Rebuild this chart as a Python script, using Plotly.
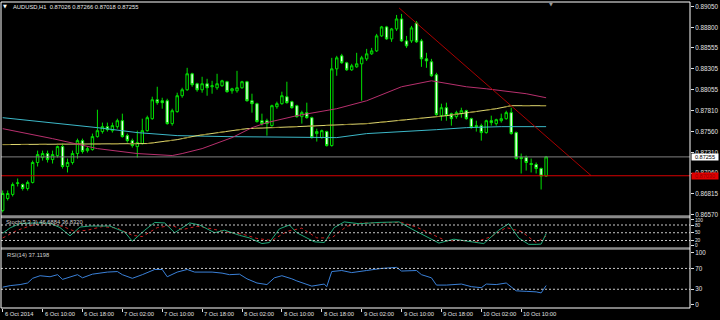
import plotly.graph_objects as go

# ---------------- data ----------------
opens = [0.86616,0.86759,0.86807,0.86938,0.86926,0.86878,0.86950,0.87188,0.87247,0.87295,
         0.87223,0.87271,0.87378,0.87140,0.87188,0.87295,0.87449,0.87330,0.87342,0.87497,
         0.87557,0.87616,0.87568,0.87616,0.87687,0.87509,0.87449,0.87378,0.87414,0.87568,
         0.87711,0.87937,0.87925,0.87925,0.87652,0.87795,0.87985,0.88056,0.88247,0.88128,
         0.88056,0.88128,0.88092,0.88080,0.88104,0.88152,0.88044,0.88044,0.88080,0.88152,
         0.87925,0.87890,0.87687,0.87687,0.87628,0.87854,0.87890,0.87973,0.87914,0.87866,
         0.87735,0.87783,0.87723,0.87533,0.87485,0.87557,0.87390,0.88306,0.88461,0.88378,
         0.88294,0.88330,0.88366,0.88425,0.88485,0.88520,0.88699,0.88806,0.88663,0.88782,
         0.88901,0.88639,0.88639,0.88854,0.88639,0.88425,0.88390,0.88235,0.87747,0.87842,
         0.87771,0.87735,0.87771,0.87806,0.87711,0.87628,0.87628,0.87545,0.87687,0.87652,
         0.87687,0.87711,0.87783,0.87545,0.87247,0.87247,0.87176,0.87164,0.87116,0.87026]
highs = [0.86854,0.86854,0.86950,0.86997,0.86938,0.86973,0.87211,0.87330,0.87330,0.87330,
         0.87330,0.87390,0.87414,0.87235,0.87330,0.87473,0.87473,0.87378,0.87533,0.87818,
         0.87664,0.87664,0.87664,0.87711,0.87771,0.87533,0.87473,0.87568,0.87711,0.87747,
         0.87973,0.88092,0.87961,0.87949,0.87830,0.88021,0.88080,0.88318,0.88259,0.88140,
         0.88211,0.88187,0.88163,0.88247,0.88175,0.88163,0.88080,0.88282,0.88163,0.88163,
         0.88009,0.87902,0.87771,0.87711,0.87878,0.87914,0.88033,0.88152,0.87925,0.87878,
         0.87806,0.87902,0.87735,0.87592,0.87580,0.87568,0.88437,0.88461,0.88485,0.88390,
         0.88366,0.88497,0.88461,0.88544,0.88556,0.88723,0.88818,0.88818,0.88794,0.88949,
         0.88961,0.88699,0.88818,0.88877,0.88663,0.88497,0.88425,0.88259,0.87890,0.87902,
         0.87783,0.87806,0.87842,0.87818,0.87723,0.87687,0.87652,0.87699,0.87747,0.87711,
         0.87771,0.87806,0.87842,0.87557,0.87295,0.87271,0.87235,0.87188,0.87128,0.87266]
lows = [0.86593,0.86735,0.86783,0.86902,0.86854,0.86854,0.86938,0.87140,0.87211,0.87188,
        0.87176,0.87247,0.87116,0.87069,0.87164,0.87235,0.87295,0.87307,0.87330,0.87485,
        0.87533,0.87557,0.87545,0.87592,0.87485,0.87426,0.87366,0.87247,0.87402,0.87557,
        0.87699,0.87878,0.87830,0.87640,0.87628,0.87783,0.87961,0.88044,0.88092,0.88033,
        0.88021,0.87985,0.88009,0.88056,0.88092,0.88021,0.88009,0.88021,0.88068,0.87914,
        0.87783,0.87664,0.87628,0.87509,0.87616,0.87830,0.87878,0.87890,0.87830,0.87723,
        0.87652,0.87711,0.87473,0.87438,0.87473,0.87378,0.87378,0.88223,0.88366,0.88282,
        0.88282,0.88318,0.87925,0.88401,0.88473,0.88508,0.88687,0.88651,0.88628,0.88758,
        0.88628,0.88556,0.88616,0.88616,0.88330,0.88318,0.88211,0.87747,0.87687,0.87687,
        0.87628,0.87711,0.87723,0.87699,0.87592,0.87557,0.87449,0.87533,0.87628,0.87628,
        0.87664,0.87699,0.87521,0.87223,0.87057,0.87092,0.87069,0.87057,0.86866,0.87018]
closes = [0.86818,0.86818,0.86926,0.86945,0.86878,0.86950,0.87188,0.87283,0.87295,0.87223,
          0.87283,0.87378,0.87140,0.87188,0.87295,0.87449,0.87319,0.87354,0.87497,0.87568,
          0.87616,0.87580,0.87628,0.87687,0.87497,0.87449,0.87390,0.87426,0.87568,0.87723,
          0.87937,0.87902,0.87902,0.87652,0.87806,0.87985,0.88056,0.88247,0.88116,0.88056,
          0.88128,0.88080,0.88104,0.88128,0.88163,0.88033,0.88068,0.88080,0.88152,0.87925,
          0.87890,0.87676,0.87652,0.87652,0.87866,0.87890,0.87985,0.87902,0.87842,0.87735,
          0.87783,0.87723,0.87485,0.87557,0.87568,0.87390,0.88306,0.88437,0.88378,0.88294,
          0.88342,0.88366,0.88437,0.88485,0.88520,0.88699,0.88806,0.88663,0.88782,0.88901,
          0.88639,0.88580,0.88794,0.88628,0.88425,0.88401,0.88223,0.87759,0.87842,0.87747,
          0.87711,0.87783,0.87806,0.87711,0.87604,0.87616,0.87545,0.87687,0.87664,0.87699,
          0.87711,0.87783,0.87533,0.87235,0.87235,0.87188,0.87164,0.87116,0.87026,0.87255]
bar_index = list(range(len(closes)))

ma_cyan_idx = [0, 10, 19, 27, 35, 45, 59, 67, 73, 81, 87, 93, 100, 109]
ma_cyan = [0.87723, 0.87664, 0.87604, 0.87545, 0.87509, 0.87497, 0.87491, 0.87485,
           0.87533, 0.87557, 0.87580, 0.87604, 0.87616, 0.87616]
ma_yellow_idx = [0, 29, 35, 39, 46, 49, 59, 65, 73, 81, 89, 99, 102, 109]
ma_yellow = [0.87402, 0.87414, 0.87461, 0.87509, 0.87568, 0.87592, 0.87616, 0.87628,
             0.87652, 0.87699, 0.87747, 0.87830, 0.87866, 0.87866]
ma_magenta_idx = [0, 10, 19, 27, 34, 36, 40, 46, 50, 53, 59, 67, 73, 80, 86, 93, 97, 100, 105, 109]
ma_magenta = [0.87592, 0.87473, 0.87354, 0.87295, 0.87271, 0.87295, 0.87354, 0.87485,
              0.87604, 0.87664, 0.87747, 0.87830, 0.87925, 0.88092, 0.88163, 0.88092,
              0.88068, 0.88044, 0.88009, 0.87961]

bid_price = 0.87255
level_price = 0.87030
trend_idx = [79.5, 118]
trend_price = [0.89033, 0.87033]

price_ticks = [0.89050, 0.88800, 0.88555, 0.88305, 0.88055, 0.87810, 0.87560,
               0.87310, 0.87060, 0.86815, 0.86570]

stoch_idx = [0,1.5,3.5,6,9.5,11.5,13.5,15.5,17.5,21.5,24.5,26,28.5,30.5,32.5,34.5,37.5,39.5,
             42.5,44.5,47.5,49.5,52,53.5,55.5,57.5,59,62.5,64.5,66.5,68.5,71.5,75.5,79.5,
             82.5,84.5,87.5,90.5,93,96.5,99.5,101.5,103.5,105.5,107,108,109]
stoch_main = [48,69,86,88,87,70,38,72,76,76,52,17,60,90,88,50,88,80,50,60,40,30,8,12,65,80,
              50,15,12,70,92,85,90,92,60,40,10,25,18,8,60,85,30,5,5,6,46.69]
signal_idx = [0,3,6,9,12,14.5,17,20,23,26,28,31,34,36,39,42,45,48,51,54,57,60,63,66,69,72,
              76,80,83,86,89,92,95,98,101,104,107,109]
stoch_signal = [30,60,80,86,75,55,60,74,68,40,35,70,78,62,75,65,52,45,28,20,55,68,30,30,75,
                88,88,90,72,45,18,20,15,35,70,55,12,36.83]
stoch_levels = [80, 50, 20]
stoch_ticks = [100, 80, 50, 20, 0]

rsi_idx = [0,1.5,3.5,5,6,7.5,9.5,11,12,13.5,15,16,18,21,23,24,26,28,30.5,32,33,35,37,38.5,
           42,44,45.5,47.5,49,51,53,54.5,56,58,59,62,64.5,65,66,68,70,73,76,79,80,83,84,86,
           87,89,92,94,96,97,99,101,102,103,105,107,108,109]
rsi_vals = [34,37,39,42,51,56,54,58,49,53,58,52,59,63,64,58,51,58,68,68,54,63,68,63,63,61,58,
            59,50,42,39,52,56,50,46,36,40,35,64,66,62,66,70,72,65,66,58,52,38,38,40,35,33,40,
            39,42,34,27,26,25,23,37.12]
rsi_levels = [70, 30]
rsi_ticks = [100, 70, 30, 0]

time_tick_idx = [0, 8, 16, 24, 32, 40, 48, 56, 64, 72, 80, 88, 96, 104]
time_tick_text = ["6 Oct 2014", "6 Oct 10:00", "6 Oct 18:00", "7 Oct 02:00", "7 Oct 10:00",
                  "7 Oct 18:00", "8 Oct 02:00", "8 Oct 10:00", "8 Oct 18:00", "9 Oct 02:00",
                  "9 Oct 10:00", "9 Oct 18:00", "10 Oct 02:00", "10 Oct 10:00"]

title_text = "AUDUSD,H1&nbsp;&nbsp;0.87026 0.87266 0.87018 0.87255"
stoch_text = "Stoch(5,3,3) 46.6884 36.8320"
rsi_text = "RSI(14) 37.1198"

# ---------------- layout geometry ----------------
W, H = 720, 320
ML, MR, MT, MB = 1, 28, 1, 12
PH = H - MT - MB  # 307
PW = W - ML - MR


def py(px):
    """pixel row -> paper y"""
    return (H - MB - px) / PH


def pxx(px):
    """pixel column -> paper x"""
    return (px - ML) / PW


FONT = "Liberation Sans"
FS = 5.8      # small texts
FS_P = 6.3    # price labels
FS_BOX = 5.6  # price boxes

fig = go.Figure()

fig.add_trace(go.Candlestick(
    x=bar_index, open=opens, high=highs, low=lows, close=closes,
    increasing=dict(line=dict(color="#00e000", width=1), fillcolor="#000000"),
    decreasing=dict(line=dict(color="#00e000", width=1), fillcolor="#e8ffe8"),
    whiskerwidth=0, xaxis="x", yaxis="y", showlegend=False, hoverinfo="skip"))

fig.add_trace(go.Scatter(x=ma_cyan_idx, y=ma_cyan, mode="lines",
                         line=dict(color="#3cb8c8", width=1), xaxis="x", yaxis="y",
                         showlegend=False, hoverinfo="skip"))
fig.add_trace(go.Scatter(x=ma_yellow_idx, y=ma_yellow, mode="lines",
                         line=dict(color="#e0d870", width=1), xaxis="x", yaxis="y",
                         showlegend=False, hoverinfo="skip"))
fig.add_trace(go.Scatter(x=ma_yellow_idx, y=ma_yellow, mode="lines",
                         line=dict(color="#8c8030", width=1, dash="8px,10px"), xaxis="x", yaxis="y",
                         showlegend=False, hoverinfo="skip"))
fig.add_trace(go.Scatter(x=ma_magenta_idx, y=ma_magenta, mode="lines",
                         line=dict(color="#b8306e", width=1), xaxis="x", yaxis="y",
                         showlegend=False, hoverinfo="skip"))
fig.add_trace(go.Scatter(x=trend_idx, y=trend_price, mode="lines",
                         line=dict(color="#a80000", width=1), xaxis="x", yaxis="y",
                         showlegend=False, hoverinfo="skip"))

# stochastic
fig.add_trace(go.Scatter(x=signal_idx, y=stoch_signal, mode="lines",
                         line=dict(color="#c82020", width=1, dash="dot"), xaxis="x", yaxis="y2",
                         showlegend=False, hoverinfo="skip"))
fig.add_trace(go.Scatter(x=stoch_idx, y=stoch_main, mode="lines",
                         line=dict(color="#20a878", width=1), xaxis="x", yaxis="y2",
                         showlegend=False, hoverinfo="skip"))
# rsi
fig.add_trace(go.Scatter(x=rsi_idx, y=rsi_vals, mode="lines",
                         line=dict(color="#3a80d8", width=1), xaxis="x", yaxis="y3",
                         showlegend=False, hoverinfo="skip"))

shapes = []
shapes.append(dict(type="line", xref="paper", x0=0, x1=1, yref="y", y0=bid_price, y1=bid_price,
                   line=dict(color="#808080", width=1)))
shapes.append(dict(type="line", xref="paper", x0=0, x1=1, yref="y", y0=level_price, y1=level_price,
                   line=dict(color="#d80000", width=1)))
for lv in stoch_levels:
    shapes.append(dict(type="line", xref="paper", x0=0, x1=1, yref="y2", y0=lv, y1=lv,
                       line=dict(color="#c8c8c8", width=1, dash="2px,2px")))
for lv in rsi_levels:
    shapes.append(dict(type="line", xref="paper", x0=0, x1=1, yref="y3", y0=lv, y1=lv,
                       line=dict(color="#c8c8c8", width=1, dash="2px,2px")))
shapes.append(dict(type="rect", xref="paper", x0=0, x1=1, yref="paper", y0=py(218), y1=py(215),
                   line=dict(width=0), fillcolor="#8a8a8a", layer="above"))
shapes.append(dict(type="rect", xref="paper", x0=0, x1=1, yref="paper", y0=py(249.5), y1=py(247),
                   line=dict(width=0), fillcolor="#8a8a8a", layer="above"))
shapes.append(dict(type="rect", xref="paper", x0=0, x1=1, yref="paper", y0=0, y1=1,
                   line=dict(color="#ffffff", width=1), fillcolor="rgba(0,0,0,0)", layer="above"))

annotations = []
for ti, tt in zip(time_tick_idx, time_tick_text):
    annotations.append(dict(x=ti, xref="x", y=0, yref="paper", text=tt, showarrow=False,
                            xanchor="left", yanchor="top", xshift=0, yshift=-1,
                            font=dict(family=FONT, size=FS, color="#e0e0e0")))
annotations.append(dict(x=pxx(5), xref="paper", y=py(5.5), yref="paper",
                        text="▼", showarrow=False, xanchor="center", yanchor="middle",
                        font=dict(family="DejaVu Sans", size=5, color="#ffffff")))
annotations.append(dict(x=pxx(11), xref="paper", y=py(6), yref="paper",
                        text=title_text, showarrow=False, xanchor="left", yanchor="middle",
                        font=dict(family=FONT, size=FS, color="#e8e8e8")))
annotations.append(dict(x=pxx(553), xref="paper", y=py(3), yref="paper",
                        text="▼", showarrow=False, xanchor="center", yanchor="middle",
                        font=dict(family="DejaVu Sans", size=5, color="#9a9a9a")))
annotations.append(dict(x=pxx(4), xref="paper", y=py(222), yref="paper",
                        text=stoch_text, showarrow=False, xanchor="left", yanchor="middle",
                        font=dict(family=FONT, size=FS, color="#d0d0d0")))
annotations.append(dict(x=pxx(5), xref="paper", y=py(255), yref="paper",
                        text=rsi_text, showarrow=False, xanchor="left", yanchor="middle",
                        font=dict(family=FONT, size=FS, color="#d0d0d0")))
annotations.append(dict(x=1, xref="paper", y=bid_price, yref="y", text="%.5f" % bid_price,
                        showarrow=False, xanchor="left", yanchor="middle", xshift=1,
                        bgcolor="#ffffff", borderpad=0, width=26, height=6,
                        font=dict(family=FONT, size=FS_BOX, color="#000000")))
annotations.append(dict(x=1, xref="paper", y=level_price, yref="y", text="%.5f" % level_price,
                        showarrow=False, xanchor="left", yanchor="middle", xshift=1,
                        bgcolor="#e00000", borderpad=0, width=26, height=6,
                        font=dict(family=FONT, size=FS_BOX, color="#900000")))

fig.update_layout(
    width=W, height=H,
    margin=dict(l=ML, r=MR, t=MT, b=MB, pad=0),
    paper_bgcolor="#000000", plot_bgcolor="#000000",
    showlegend=False,
    font=dict(family=FONT, size=FS, color="#e0e0e0"),
    xaxis=dict(range=[-0.34, 137.86], anchor="y3", showgrid=False, zeroline=False,
               showticklabels=False, ticks="outside", ticklen=3, tickcolor="#e0e0e0",
               tickvals=time_tick_idx, rangeslider=dict(visible=False), fixedrange=True),
    yaxis=dict(domain=[py(215), 1], range=[0.865580, 0.891035], autorange=False,
               side="right", anchor="x", showgrid=False, zeroline=False,
               tickvals=price_ticks, ticktext=["%.5f" % v for v in price_ticks],
               ticks="outside", ticklen=3, tickcolor="#e0e0e0",
               tickfont=dict(family=FONT, size=FS_P, color="#e0e0e0")),
    yaxis2=dict(domain=[py(247), py(218)], range=[-6, 106], side="right", anchor="x",
                showgrid=False, zeroline=False, tickvals=stoch_ticks,
                ticks="outside", ticklen=3, tickcolor="#e0e0e0",
                tickfont=dict(family=FONT, size=4.8, color="#e0e0e0")),
    yaxis3=dict(domain=[0, py(249.5)], range=[-6, 106], side="right", anchor="x",
                showgrid=False, zeroline=False, tickvals=rsi_ticks,
                ticks="outside", ticklen=3, tickcolor="#e0e0e0",
                tickfont=dict(family=FONT, size=FS_P, color="#e0e0e0")),
    shapes=shapes, annotations=annotations,
)

fig.write_html("out.html")
